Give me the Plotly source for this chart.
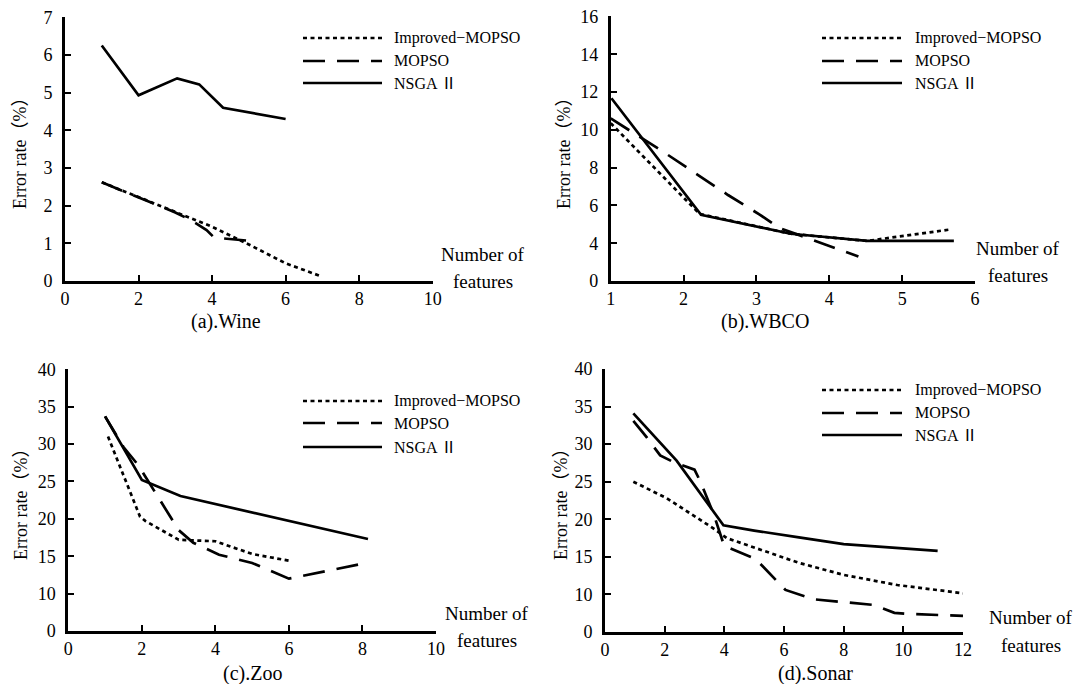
import numpy as np
import plotly.graph_objects as go

W, H = 1077, 684
FONT = "Liberation Serif, Times New Roman, Noto Sans CJK SC, serif"

# (a) Wine
wine_imp_x = [1, 2, 3, 4, 5, 6, 6.95]
wine_imp_y = [2.62, 2.22, 1.82, 1.44, 0.97, 0.47, 0.13]
wine_mop_x = [1, 2, 3, 3.45, 3.85, 4.05, 4.3, 5.1]
wine_mop_y = [2.62, 2.22, 1.82, 1.6, 1.35, 1.16, 1.13, 1.06]
wine_nsga_x = [1, 2, 3.05, 3.65, 4.3, 6]
wine_nsga_y = [6.25, 4.93, 5.38, 5.22, 4.6, 4.3]

# (b) WBCO
wbco_imp_x = [1.0, 2.22, 3.47, 4.52, 5.65]
wbco_imp_y = [10.35, 5.55, 4.5, 4.12, 4.72]
wbco_mop_x = [1.0, 1.72, 2.2, 2.61, 3.05, 3.32, 4.4]
wbco_mop_y = [10.6, 8.84, 7.6, 6.55, 5.5, 4.8, 2.6]
wbco_nsga_x = [1.01, 2.24, 3.47, 4.52, 5.71]
wbco_nsga_y = [11.67, 5.5, 4.5, 4.12, 4.12]

# (c) Zoo
zoo_imp_x = [1.08, 1.4, 1.77, 1.95, 2.1, 3.0, 4.0, 5.0, 6.0]
zoo_imp_y = [31.0, 27.0, 22.5, 20.3, 19.7, 17.2, 17.0, 15.3, 14.4]
zoo_mop_x = [1.0, 1.5, 1.9, 3.0, 3.4, 4.1, 5.0, 6.0, 8.0]
zoo_mop_y = [33.7, 29.6, 27.2, 18.5, 16.8, 15.2, 14.1, 12.0, 14.0]
zoo_nsga_x = [1.0, 2.0, 3.05, 8.15]
zoo_nsga_y = [33.7, 25.2, 23.05, 17.3]

# (d) Sonar
sonar_imp_x = [0.95, 2.07, 3.63, 4.08, 6.5, 8.0, 9.8, 12.0]
sonar_imp_y = [25.0, 22.8, 18.8, 17.5, 14.2, 12.6, 11.25, 10.15]
sonar_mop_x = [0.95, 1.4, 1.85, 2.3, 3.0, 3.2, 3.65, 4.0, 4.15, 5.0, 5.2, 6.05, 7.0, 8.5, 9.0, 9.7, 10.2, 12.0]
sonar_mop_y = [33.1, 30.9, 28.5, 27.6, 26.6, 25.0, 20.6, 16.4, 16.2, 14.8, 14.1, 10.6, 8.7, 7.6, 7.2, 5.1, 4.8, 4.3]
sonar_nsga_x = [0.95, 2.4, 3.97, 5.0, 6.5, 8.0, 11.15]
sonar_nsga_y = [34.1, 27.8, 19.2, 18.5, 17.6, 16.7, 15.8]

# y tick labels (broken axes: labels evenly spaced)
wine_yticks = [0, 1, 2, 3, 4, 5, 6, 7]
wbco_yticks = [0, 4, 6, 8, 10, 12, 14, 16]
zoo_yticks = [0, 10, 15, 20, 25, 30, 35, 40]
sonar_yticks = [0, 10, 15, 20, 25, 30, 35, 40]

wine_xticks = [0, 2, 4, 6, 8, 10]
wbco_xticks = [1, 2, 3, 4, 5, 6]
zoo_xticks = [0, 2, 4, 6, 8, 10]
sonar_xticks = [0, 2, 4, 6, 8, 10, 12]

series_names = ["Improved\u2212MOPSO", "MOPSO", "NSGA \u2161"]
titles = ["(a).Wine", "(b).WBCO", "(c).Zoo", "(d).Sonar"]

DASHES = ["4px,3.5px", "22px,12px", "solid"]
LW = 2.7


def fx(p):
    return p / W


def fy(p):
    return 1 - p / H


panels = [
    dict(series=[(wine_imp_x, wine_imp_y), (wine_mop_x, wine_mop_y), (wine_nsga_x, wine_nsga_y)],
         yticks=wine_yticks, xticks=wine_xticks, xrange=[0, 10],
         xdom=(65, 432.7), ydom=(281, 17.3),
         leg=(303, 382, 392, [38, 61, 83]), num=(483, 254, 281),
         title=(226, 321), ytitle=(20, 149)),
    dict(series=[(wbco_imp_x, wbco_imp_y), (wbco_mop_x, wbco_mop_y), (wbco_nsga_x, wbco_nsga_y)],
         yticks=wbco_yticks, xticks=wbco_xticks, xrange=[1, 6],
         xdom=(610.7, 975), ydom=(281, 16.4),
         leg=(822, 902, 913, [38, 61, 83]), num=(1018, 248, 276),
         title=(765, 321), ytitle=(564, 149)),
    dict(series=[(zoo_imp_x, zoo_imp_y), (zoo_mop_x, zoo_mop_y), (zoo_nsga_x, zoo_nsga_y)],
         yticks=zoo_yticks, xticks=zoo_xticks, xrange=[0, 10],
         xdom=(68.3, 436), ydom=(631, 369.3),
         leg=(303, 382, 392, [401, 423, 447]), num=(487, 613, 640),
         title=(252, 673), ytitle=(21, 500)),
    dict(series=[(sonar_imp_x, sonar_imp_y), (sonar_mop_x, sonar_mop_y), (sonar_nsga_x, sonar_nsga_y)],
         yticks=sonar_yticks, xticks=sonar_xticks, xrange=[0, 12],
         xdom=(605, 963), ydom=(632, 369),
         leg=(822, 902, 913, [390, 413, 435]), num=(1031, 617, 645),
         title=(815, 673), ytitle=(561, 500)),
]

fig = go.Figure()
shapes = []
annotations = []
layout = {}

for i, p in enumerate(panels):
    k = "" if i == 0 else str(i + 1)
    pos = np.arange(len(p["yticks"]))
    for (xs, ys), name, dash in zip(p["series"], series_names, DASHES):
        ypos = np.interp(ys, p["yticks"], pos)
        fig.add_trace(go.Scatter(
            x=xs, y=ypos, mode="lines", name=name, showlegend=False,
            line=dict(color="black", width=LW, dash=dash),
            xaxis="x" + k, yaxis="y" + k, cliponaxis=False,
        ))

    axis_common = dict(
        showline=True, linecolor="black", linewidth=2.7,
        ticks="inside", ticklen=6, tickwidth=2, tickcolor="black",
        showgrid=False, zeroline=False, fixedrange=True, automargin=False,
        tickfont=dict(family=FONT, size=18, color="black"),
    )
    layout["xaxis" + k] = dict(
        axis_common, domain=[fx(p["xdom"][0]), fx(p["xdom"][1])],
        range=p["xrange"], tickvals=p["xticks"], anchor="y" + k,
        ticklabelstandoff=0,
    )
    layout["yaxis" + k] = dict(
        axis_common, domain=[fy(p["ydom"][0]), fy(p["ydom"][1])],
        range=[0, len(p["yticks"]) - 1], tickvals=list(pos),
        ticktext=[str(t) for t in p["yticks"]], anchor="x" + k,
        ticklabelstandoff=6,
    )

    # in-plot key
    x0, x1, xt, rows = p["leg"]
    for name, dash, ry in zip(series_names, DASHES, rows):
        shapes.append(dict(type="line", xref="paper", yref="paper",
                           x0=fx(x0), x1=fx(x1), y0=fy(ry), y1=fy(ry),
                           line=dict(color="black", width=LW, dash=dash)))
        annotations.append(dict(xref="paper", yref="paper", x=fx(xt), y=fy(ry),
                                text=name, showarrow=False, xanchor="left", yanchor="middle",
                                font=dict(family=FONT, size=16, color="black")))

    nx, ny1, ny2 = p["num"]
    for txt, ny in [("Number of", ny1), ("features", ny2)]:
        annotations.append(dict(xref="paper", yref="paper", x=fx(nx), y=fy(ny),
                                text=txt, showarrow=False, xanchor="center", yanchor="middle",
                                font=dict(family=FONT, size=19, color="black")))

    tx, ty = p["title"]
    annotations.append(dict(xref="paper", yref="paper", x=fx(tx), y=fy(ty),
                            text=titles[i], showarrow=False, xanchor="center", yanchor="middle",
                            font=dict(family=FONT, size=20, color="black")))

    yx, yy = p["ytitle"]
    annotations.append(dict(xref="paper", yref="paper", x=fx(yx), y=fy(yy),
                            text="Error rate\uff08%\uff09", textangle=-90, showarrow=False,
                            xanchor="center", yanchor="middle",
                            font=dict(family=FONT, size=18, color="black")))

fig.update_layout(
    template="none",
    width=W, height=H,
    margin=dict(l=0, r=0, t=0, b=0, pad=0, autoexpand=False),
    paper_bgcolor="white", plot_bgcolor="white",
    font=dict(family=FONT, color="black"),
    shapes=shapes, annotations=annotations,
    showlegend=False,
    **layout,
)

fig.write_html("out.html", config={"displayModeBar": False},
               post_script="document.body.style.margin='0px';")
